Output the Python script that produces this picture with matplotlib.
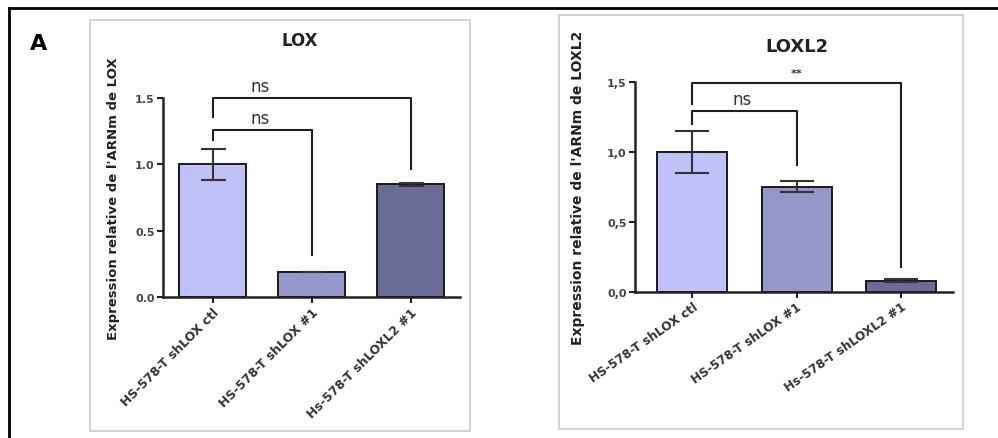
import numpy as np
import matplotlib
matplotlib.use("Agg")
import matplotlib.pyplot as plt
from matplotlib.patches import Rectangle
from matplotlib.lines import Line2D

plt.rcParams['font.family'] = ['DejaVu Sans']

# data
categories = ["HS-578-T shLOX ctl", "HS-578-T shLOX #1", "Hs-578-T shLOXL2 #1"]
lox_mean = [1.0, 0.19, 0.85]
lox_sem = [0.115, 0.0, 0.01]
loxl2_mean = [1.0, 0.75, 0.08]
loxl2_sem = [0.15, 0.04, 0.01]

# significance brackets: (left bar, right bar, label, top, left leg end, right leg end)
lox_brackets = [(0, 1, "ns", 1.26, 1.18, 0.32), (0, 2, "ns", 1.50, 1.36, 0.965)]
loxl2_brackets = [(0, 1, "ns", 1.29, 1.20, 0.905), (0, 2, "**", 1.49, 1.34, 0.18)]

bar_colors = ["#c1c1fa", "#9596c9", "#6b6b97"]

W, H = 998, 439
fig = plt.figure(figsize=(W / 100, H / 100), dpi=100)


def px_axes(x0, x1, y_top, y_bot):
    # pixel box -> figure fraction
    return fig.add_axes([x0 / W, 1 - y_bot / H, (x1 - x0) / W, (y_bot - y_top) / H])


def panel_box(x0, x1, y_top, y_bot):
    fig.patches.append(Rectangle((x0 / W, 1 - y_bot / H), (x1 - x0) / W, (y_bot - y_top) / H,
                                 transform=fig.transFigure, facecolor="none",
                                 edgecolor="#cfcfcf", lw=1.3, zorder=-1))


def draw_chart(ax, means, sems, brackets, ylabel, comma, cap, xlim, rot, xt_size, yl_size, lpad):
    x = np.arange(len(categories))
    ax.bar(x, means, width=0.67, color=bar_colors, edgecolor="#1a1a1a", linewidth=1.4, zorder=2)
    ax.errorbar(x, means, yerr=sems, fmt="none", ecolor="#333333", elinewidth=1.5,
                capsize=cap, capthick=1.5, zorder=3)
    ax.set_xlim(*xlim)
    ax.set_ylim(0, 1.5)
    ax.set_yticks([0, 0.5, 1.0, 1.5])
    if comma:
        ax.set_yticklabels(["0,0", "0,5", "1,0", "1,5"])
    else:
        ax.set_yticklabels(["0.0", "0.5", "1.0", "1.5"])
    ax.set_xticks(x)
    ax.set_xticklabels(categories, rotation=rot, ha="right", va="top", rotation_mode="anchor")
    for lab in ax.get_xticklabels():
        lab.set_fontweight("bold")
        lab.set_color("#333333")
        lab.set_fontsize(xt_size)
    for lab in ax.get_yticklabels():
        lab.set_fontweight("bold")
        lab.set_color("#444444")
        lab.set_fontsize(8)
    ax.tick_params(axis="both", direction="out", length=4, width=1.5, color="#222222", pad=2)
    for s in ["top", "right"]:
        ax.spines[s].set_visible(False)
    for s in ["left", "bottom"]:
        ax.spines[s].set_linewidth(1.8)
        ax.spines[s].set_color("#222222")
    ax.patch.set_alpha(0)
    ax.set_ylabel(ylabel, fontweight="bold", fontsize=yl_size, color="#222222", labelpad=lpad)
    for i, j, lab, top, yl, yr in brackets:
        ax.add_line(Line2D([i, i, j, j], [yl, top, top, yr], color="#1e1e1e", lw=1.5,
                           clip_on=False, zorder=4))
        if lab == "**":
            ax.text((i + j) / 2, top + 0.04, lab, ha="center", va="bottom", fontsize=8,
                    fontweight="bold", color="#333333")
        else:
            ax.text(i + 0.48, top + 0.025, lab, ha="center", va="bottom", fontsize=12,
                    color="#333333")
    return ax


panel_box(90, 470, 21, 432)
panel_box(559, 963, 16, 430)

ax1 = px_axes(163, 460, 99, 298)
draw_chart(ax1, lox_mean, lox_sem, lox_brackets, "Expression relative de l'ARNm de LOX",
           False, 9, (-0.5, 2.5), 45, 9, 9.5, 11)

ax2 = px_axes(635, 953, 82.7, 292.7)
draw_chart(ax2, loxl2_mean, loxl2_sem, loxl2_brackets,
           "Expression relative de l'ARNm de LOXL2", True, 12, (-0.55, 2.5), 35, 8.7, 10, 16)

fig.text(300 / W, 1 - 41 / H, "LOX", fontsize=12, fontweight="bold", color="#222222",
         ha="center", va="center")
fig.text(797 / W, 1 - 47 / H, "LOXL2", fontsize=13, fontweight="bold", color="#222222",
         ha="center", va="center")

# outer frame (left and top edges) and panel letter
fig.add_artist(Line2D([9 / W, 9 / W], [0, 1 - 9 / H], transform=fig.transFigure, color="black", lw=2))
fig.add_artist(Line2D([9 / W, 1], [1 - 9 / H, 1 - 9 / H], transform=fig.transFigure, color="black", lw=2))
fig.text(39 / W, 1 - 44 / H, "A", fontsize=16, fontweight="bold", ha="center", va="center")

fig.savefig("out.png", dpi=100, facecolor="white")
